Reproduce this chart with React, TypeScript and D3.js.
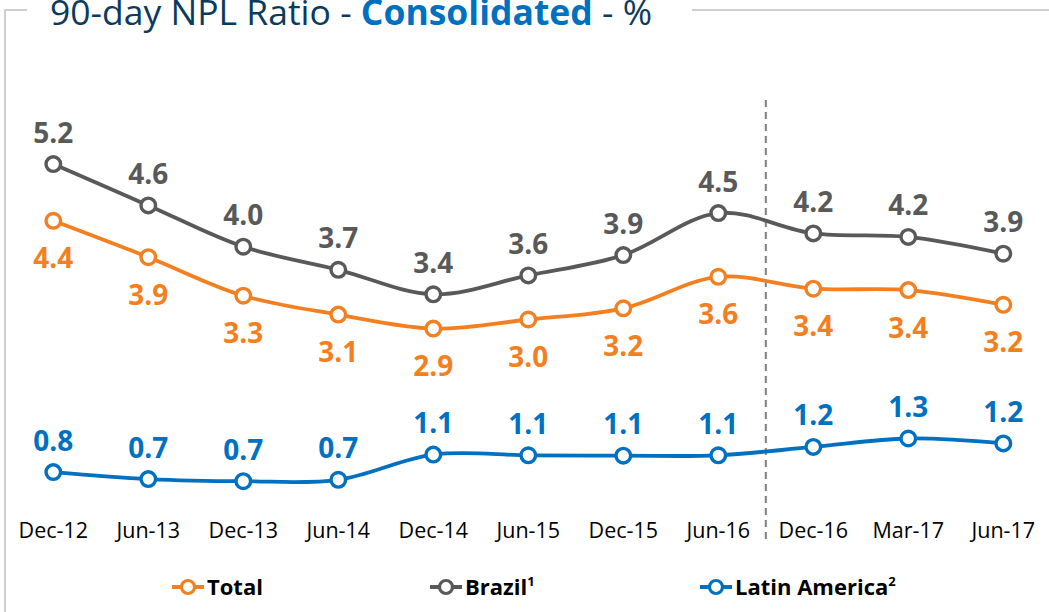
import React from 'react'
import * as d3 from 'd3'

const categories = ['Dec-12', 'Jun-13', 'Dec-13', 'Jun-14', 'Dec-14', 'Jun-15', 'Dec-15', 'Jun-16', 'Dec-16', 'Mar-17', 'Jun-17']
const brazil = [5.22, 4.63, 4.04, 3.71, 3.36, 3.63, 3.92, 4.52, 4.23, 4.18, 3.94]
const total = [4.41, 3.89, 3.34, 3.07, 2.87, 3.0, 3.16, 3.61, 3.44, 3.42, 3.21]
const latam = [0.82, 0.72, 0.69, 0.71, 1.07, 1.06, 1.055, 1.06, 1.18, 1.3, 1.23]
const dividerAfter = 'Jun-16'

const ORANGE = '#F47F20'
const GRAY = '#595959'
const BLUE = '#0070C0'
const NAVY = '#0B3B5C'
const FONT = '"Open Sans", "DejaVu Sans", sans-serif'

const width = 1049
const height = 612

type Series = { name: string; values: number[]; color: string; labelDy: number }

const seriesList: Series[] = [
  { name: 'Brazil', values: brazil, color: GRAY, labelDy: -21.5 },
  { name: 'Total', values: total, color: ORANGE, labelDy: 47.5 },
  { name: 'Latin America', values: latam, color: BLUE, labelDy: -21.5 }
]

const legendItems = [
  { name: 'Total', color: ORANGE, x: 188 },
  { name: 'Brazil', sup: '1', color: GRAY, x: 446 },
  { name: 'Latin America', sup: '2', color: BLUE, x: 716 }
]

export default function App() {
  const x = d3.scalePoint<string>().domain(categories).range([53.3, 1003.3])
  const y = d3.scaleLinear().domain([0, 5.2]).range([529.5, 529.5 - 5.2 * 70])
  const line = d3.line<number>()
    .x((_, i) => x(categories[i]) as number)
    .y(v => y(v))
    .curve(d3.curveCatmullRom.alpha(0.5))

  const step = x.step()
  const dividerX = (x(dividerAfter) as number) + step / 2

  return (
    <>
      <style>{'body{margin:0}'}</style>
      <svg width={width} height={height} viewBox={`0 0 ${width} ${height}`} style={{ display: 'block', background: '#fff' }}>
        {/* panel frame, broken where the title sits */}
        <path d={`M5,${height} V10 H27`} fill="none" stroke="#BFBFBF" strokeWidth={1.5} />
        <line x1={692} x2={width} y1={10} y2={10} stroke="#BFBFBF" strokeWidth={1.5} />
        <text x={50} y={25} fontFamily={FONT} fontSize={35.5} fill={NAVY}>
          90-day NPL Ratio - <tspan fontWeight="bold" fill={BLUE}>Consolidated</tspan> - %
        </text>

        <line x1={dividerX} x2={dividerX} y1={100} y2={540} stroke="#7F7F7F" strokeWidth={2} strokeDasharray="7,5" />

        {seriesList.map(s => (
          <g key={s.name}>
            <path d={line(s.values) ?? ''} fill="none" stroke={s.color} strokeWidth={3.8} />
            {s.values.map((v, i) => (
              <circle key={i} cx={x(categories[i])} cy={y(v)} r={7.3} fill="#fff" stroke={s.color} strokeWidth={3.4} />
            ))}
            {s.values.map((v, i) => (
              <text key={`l${i}`} x={x(categories[i])} y={y(v) + s.labelDy} textAnchor="middle"
                fontFamily={FONT} fontWeight="bold" fontSize={28} fill={s.color}>
                {v.toFixed(1)}
              </text>
            ))}
          </g>
        ))}

        {categories.map(c => (
          <text key={c} x={x(c)} y={538} textAnchor="middle" fontFamily={FONT} fontSize={21.5} fill="#000">{c}</text>
        ))}

        {legendItems.map(item => (
          <g key={item.name} transform={`translate(${item.x},587)`}>
            <line x1={-16} x2={16} y1={0} y2={0} stroke={item.color} strokeWidth={4} />
            <circle cx={0} cy={0} r={6.5} fill="#fff" stroke={item.color} strokeWidth={3.2} />
            <text x={19} y={7.5} fontFamily={FONT} fontWeight="bold" fontSize={22} fill="#000">
              {item.name}
              {item.sup && <tspan fontSize={13} dy={-9}>{item.sup}</tspan>}
            </text>
          </g>
        ))}
      </svg>
    </>
  )
}
